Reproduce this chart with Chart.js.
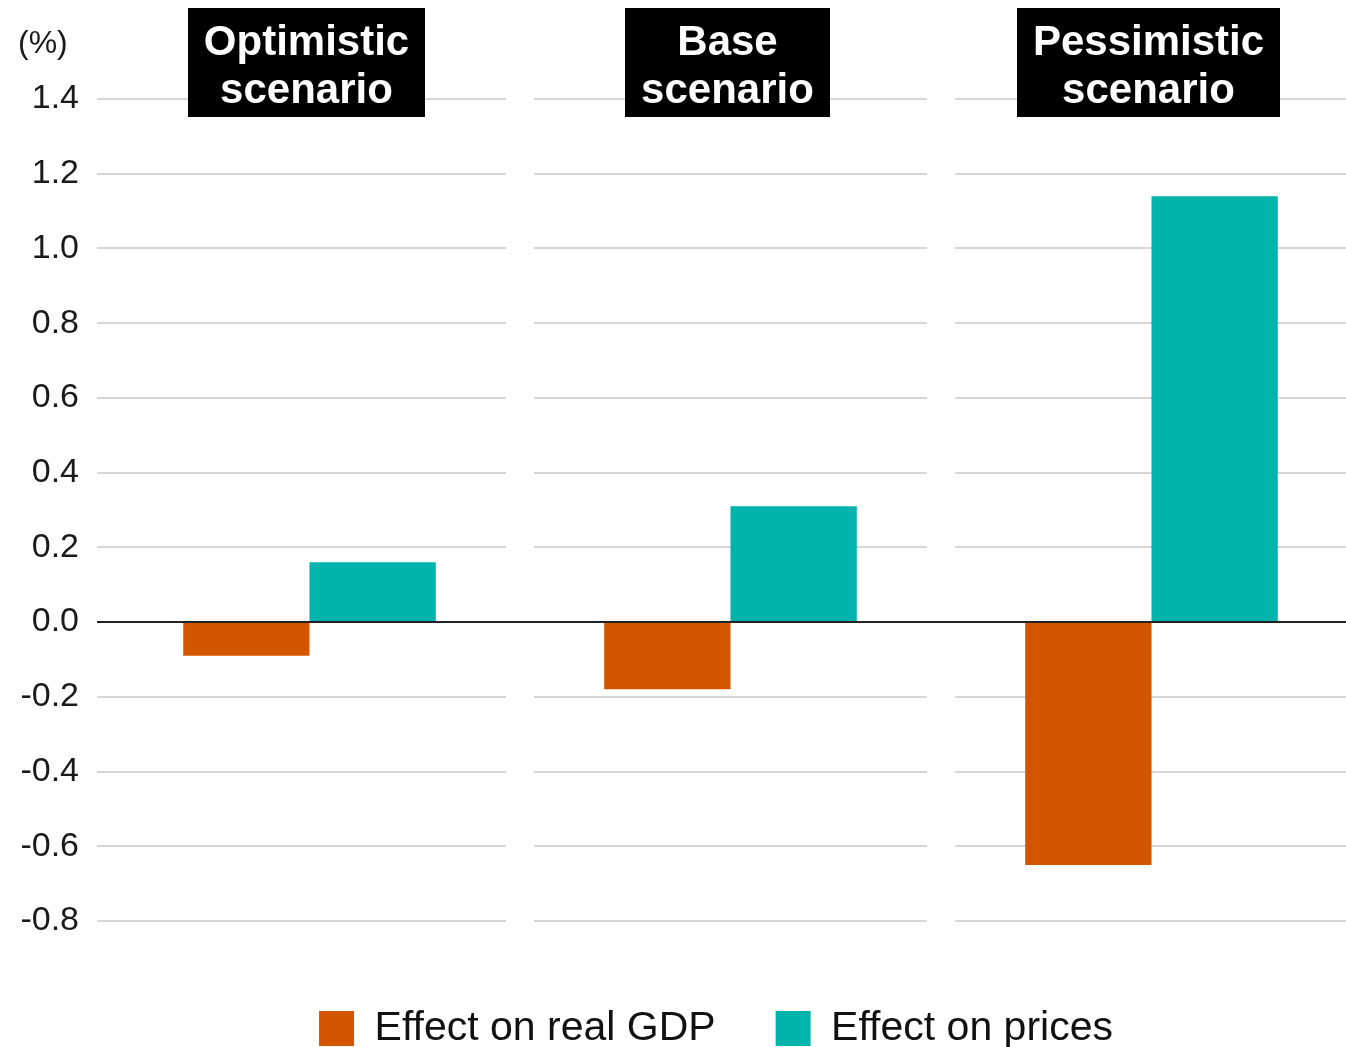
<!DOCTYPE html>
<html>
<head>
<meta charset="utf-8">
<script src="https://cdn.jsdelivr.net/npm/chart.js@4.4.0/dist/chart.umd.min.js"></script>
<style>
  html, body { margin: 0; padding: 0; background: #fff; overflow: hidden; }
  canvas { display: block; }
</style>
</head>
<body>
<canvas id="scenarioChart" width="1366" height="1060"></canvas>
<script>
const scenarios = [['Optimistic', 'scenario'], ['Base', 'scenario'], ['Pessimistic', 'scenario']];
const gdpEffect = [-0.09, -0.18, -0.65];
const priceEffect = [0.16, 0.31, 1.14];
const seriesNames = ['Effect on real GDP', 'Effect on prices'];
const yMin = -0.8;
const yMax = 1.4;
const yStep = 0.2;
const unitLabel = '(%)';

const FONT = '"Liberation Sans", Arial, Helvetica, sans-serif';

// gridlines broken between the scenario groups, zero line drawn on top
const segmentedGrid = {
  id: 'segmentedGrid',
  afterLayout(chart) {
    // legend sits a bit right of the canvas centre in the original
    const lg = chart.legend;
    lg.left += 35;
    lg.right += 35;
    lg.top += 3;
    lg.bottom += 3;
  },
  beforeDatasetsDraw(chart) {
    const { ctx, chartArea, scales: { x, y } } = chart;
    const half = (x.getPixelForValue(1) - x.getPixelForValue(0)) / 2;
    const gap = 14;
    const n = x.ticks.length;
    ctx.save();
    ctx.strokeStyle = '#d6d6d6';
    ctx.lineWidth = 2;
    y.ticks.forEach(t => {
      if (Math.abs(t.value) < 1e-9) return;
      const py = Math.round(y.getPixelForValue(t.value));
      for (let i = 0; i < n; i++) {
        const cx = x.getPixelForValue(i);
        const x0 = i === 0 ? chartArea.left - 2 : cx - half + gap;
        const x1 = i === n - 1 ? chartArea.right : cx + half - gap;
        ctx.beginPath();
        ctx.moveTo(x0, py);
        ctx.lineTo(x1, py);
        ctx.stroke();
      }
    });
    ctx.restore();
  },
  afterDatasetsDraw(chart) {
    const { ctx, chartArea, scales: { y } } = chart;
    const py = Math.round(y.getPixelForValue(0));
    ctx.save();
    ctx.strokeStyle = '#222';
    ctx.lineWidth = 2;
    ctx.beginPath();
    ctx.moveTo(chartArea.left - 2, py);
    ctx.lineTo(chartArea.right, py);
    ctx.stroke();
    ctx.restore();
  },
  afterDraw(chart) {
    const { ctx, scales: { x } } = chart;
    ctx.save();
    ctx.font = 'bold 42px ' + FONT;
    ctx.textAlign = 'center';
    ctx.textBaseline = 'alphabetic';
    scenarios.forEach((lines, i) => {
      const cx = x.getPixelForValue(i) - 3;
      const w = Math.max(...lines.map(l => ctx.measureText(l).width)) + 32;
      ctx.fillStyle = '#000';
      ctx.fillRect(Math.round(cx - w / 2), 8, Math.round(w), 109);
      ctx.fillStyle = '#fff';
      ctx.fillText(lines[0], cx, 55);
      ctx.fillText(lines[1], cx, 103);
    });
    ctx.font = '32px ' + FONT;
    ctx.fillStyle = '#1a1a1a';
    ctx.textAlign = 'left';
    ctx.fillText(unitLabel, 18, 53);
    ctx.restore();
  }
};

function renderChart() {
  const ctx = document.getElementById('scenarioChart');
  new Chart(ctx, {
    type: 'bar',
    data: {
      labels: scenarios,
      datasets: [{
        label: seriesNames[0],
        data: gdpEffect,
        backgroundColor: '#d45500'
      }, {
        label: seriesNames[1],
        data: priceEffect,
        backgroundColor: '#00b3ab'
      }]
    },
    options: {
      responsive: false,
      animation: false,
      devicePixelRatio: 1,
      layout: { padding: { top: 99, left: 0, right: 4, bottom: 4 } },
      datasets: { bar: { categoryPercentage: 0.6, barPercentage: 1.0 } },
      scales: {
        x: { display: false },
        y: {
          min: yMin,
          max: yMax,
          border: { display: false },
          grid: { display: false, drawTicks: false },
          ticks: {
            stepSize: yStep,
            padding: 20,
            color: '#1a1a1a',
            font: { family: FONT, size: 34 },
            callback: v => v.toFixed(1)
          },
          afterFit: scale => { scale.width = 99; }
        }
      },
      plugins: {
        tooltip: { enabled: false },
        legend: {
          position: 'bottom',
          title: { display: true, text: '', font: { size: 10, lineHeight: 1 }, padding: 7 },
          labels: {
            boxWidth: 35,
            boxHeight: 35,
            padding: 60,
            color: '#111',
            font: { family: FONT, size: 41 }
          }
        }
      }
    },
    plugins: [segmentedGrid]
  });
}

renderChart();
</script>
</body>
</html>
